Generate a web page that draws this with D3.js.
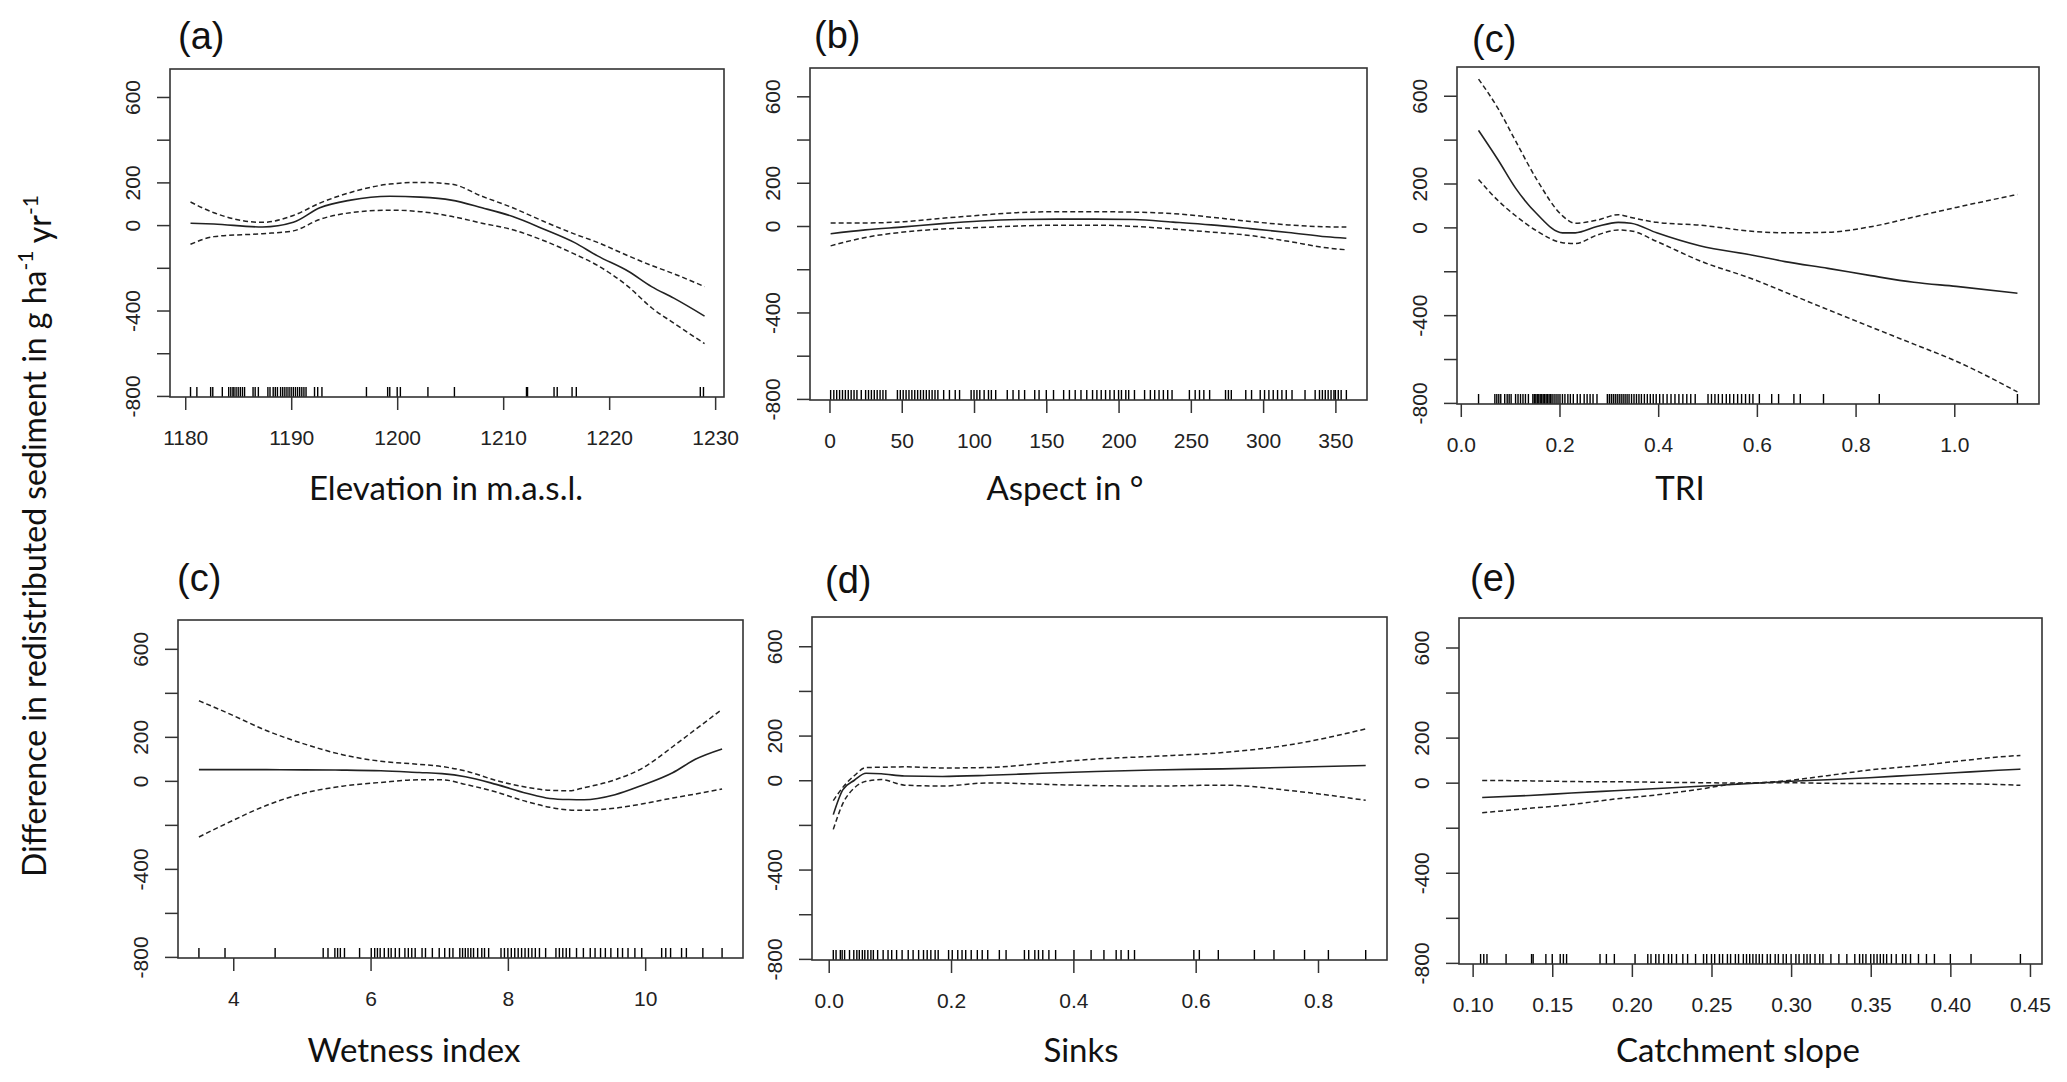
<!DOCTYPE html>
<html>
<head>
<meta charset="utf-8">
<script src="https://cdn.jsdelivr.net/npm/d3@7"></script>
<style>
  body { margin: 0; background: #fff; }
  .tick text { font-family: 'Liberation Sans', Arial, sans-serif; font-size: 21px; fill: #222; }
  .tick line { stroke: #333; stroke-width: 1.5; }
  .lbl { font-family: Lato, 'Open Sans', sans-serif; fill: #111; }
  .tag { font-family: 'Liberation Sans', Arial, sans-serif; fill: #111; }
</style>
</head>
<body>
<div id="chart"></div>
<script>
// shared y axis
const yTicks = [-800, -600, -400, -200, 0, 200, 400, 600]
const yTicksLabelled = [600, 200, 0, -400, -800]
const yLimits = [-805, 731]

// (a) elevation
const elevX = [1180.5, 1182.7, 1187.3, 1190.2, 1192.7, 1195.6, 1199.3, 1202.2, 1205.1, 1208, 1210.9, 1213.8, 1216.7, 1218.9, 1221.8, 1224, 1226.1, 1229]
const elevFit = [9, 5, -9, 13, 81, 117, 135, 131, 117, 81, 40, -18, -81, -144, -216, -288, -342, -426]
const elevUpper = [108, 58, 13, 45, 103, 153, 192, 200, 192, 135, 81, 18, -41, -81, -144, -189, -228, -288]
const elevLower = [-90, -54, -40, -27, 27, 58, 70, 63, 41, 9, -22, -72, -135, -189, -288, -387, -459, -555]
const elevRug = [1180.5, 1181.1, 1182.4, 1182.6, 1183.5, 1184.1, 1184.3, 1184.5, 1184.6, 1184.8, 1185, 1185.2, 1185.4, 1185.6,
  1186.4, 1186.6, 1186.9, 1187.8, 1188, 1188.3, 1188.5, 1188.7, 1189, 1189.2, 1189.4, 1189.6, 1189.8, 1190, 1190.2,
  1190.4, 1190.6, 1190.8, 1191, 1191.2, 1191.4, 1192.2, 1192.5, 1192.9, 1197.1, 1199.1, 1199.3, 1200, 1200.3, 1202.9,
  1205.4, 1212.2, 1212.3, 1214.8, 1215.1, 1216.5, 1216.9, 1228.6, 1228.9]
const elevTicks = [1180, 1190, 1200, 1210, 1220, 1230]

// (b) aspect
const aspX = [0.8, 24.8, 51.4, 78, 104.6, 131, 158, 184.5, 211, 237.7, 264, 291, 317.5, 344, 357.6]
const aspFit = [-36, -18, -4, 11, 23, 30, 32, 32, 30, 18, 5, -12, -30, -50, -57]
const aspUpper = [14, 14, 20, 36, 50, 62, 66, 66, 64, 57, 41, 21, 5, -4, -5]
const aspLower = [-92, -53, -28, -14, -7, 0, 4, 4, -2, -14, -28, -44, -71, -101, -110]
const aspRug = [0.8, 3, 5, 7, 9, 11, 13, 15, 17, 19, 22, 25, 27, 29, 31, 33, 35, 37, 39, 47, 49, 51, 53, 55, 57, 59, 61,
  63, 65, 67, 69, 71, 73, 75, 79, 83, 87, 90, 98, 100, 102, 104, 107, 110, 112, 115, 123, 127, 131, 135, 142, 145, 150,
  155, 162, 166, 170, 174, 178, 182, 185, 188, 191, 194, 197, 200, 202, 205, 207, 211, 218, 222, 225, 228, 231, 234,
  237, 249, 253, 256, 259, 263, 274, 276, 278, 288, 292, 298, 301, 304, 307, 310, 313, 316, 320, 329, 336, 339, 341,
  343, 345, 347, 349, 350, 352, 354, 357.6]
const aspTicks = [0, 50, 100, 150, 200, 250, 300, 350]

// (c) TRI
const triX = [0.036, 0.076, 0.111, 0.154, 0.206, 0.232, 0.276, 0.319, 0.345, 0.397, 0.484, 0.597, 0.657, 0.744, 0.831, 0.918, 1.004, 1.128]
const triFit = [442, 306, 179, 62, -25, -25, 4, 23, 19, -25, -84, -129, -156, -187, -220, -250, -269, -300]
const triUpper = [676, 540, 394, 218, 53, 19, 33, 58, 45, 23, 10, -19, -25, -22, 3, 47, 91, 150]
const triLower = [218, 121, 53, -16, -70, -74, -35, -12, -16, -64, -152, -240, -295, -375, -454, -532, -610, -750]
const triRug = [0.036, 0.069, 0.073, 0.077, 0.081, 0.089, 0.094, 0.098, 0.102, 0.111, 0.116, 0.121, 0.126, 0.131, 0.137,
  0.146, 0.149, 0.152, 0.155, 0.158, 0.161, 0.164, 0.167, 0.170, 0.173, 0.176, 0.179, 0.182, 0.185, 0.189, 0.193, 0.197,
  0.201, 0.206, 0.211, 0.217, 0.222, 0.228, 0.236, 0.242, 0.25, 0.256, 0.262, 0.268, 0.276, 0.297, 0.301, 0.305, 0.309,
  0.313, 0.317, 0.321, 0.325, 0.329, 0.333, 0.337, 0.341, 0.346, 0.351, 0.356, 0.361, 0.366, 0.372, 0.378, 0.384, 0.39,
  0.396, 0.403, 0.41, 0.418, 0.426, 0.434, 0.442, 0.45, 0.458, 0.466, 0.475, 0.501, 0.508, 0.515, 0.522, 0.53, 0.538,
  0.545, 0.553, 0.561, 0.569, 0.577, 0.585, 0.592, 0.605, 0.63, 0.644, 0.675, 0.688, 0.735, 0.848, 1.128]
const triTicks = [0, 0.2, 0.4, 0.6, 0.8, 1.0]

// (c) wetness index
const wetX = [3.5, 3.92, 4.48, 5.03, 5.59, 6.15, 6.71, 7.04, 7.38, 7.83, 8.27, 8.61, 8.89, 9.11, 9.56, 9.95, 10.4, 10.73, 11.12]
const wetFit = [51, 51, 51, 50, 49, 46, 38, 33, 19, -16, -56, -80, -85, -86, -63, -21, 37, 98, 145]
const wetUpper = [364, 308, 229, 168, 119, 89, 75, 65, 45, 2, -29, -43, -45, -31, 5, 56, 155, 233, 325]
const wetLower = [-255, -191, -112, -56, -24, -7, 5, 5, -16, -51, -94, -120, -132, -134, -124, -105, -78, -60, -37]
const wetRug = [3.5, 3.88, 4.61, 5.31, 5.38, 5.48, 5.52, 5.56, 5.62, 5.84, 6.01, 6.06, 6.1, 6.14, 6.2, 6.26, 6.3, 6.36,
  6.42, 6.5, 6.55, 6.6, 6.65, 6.75, 6.8, 6.9, 7.0, 7.08, 7.15, 7.2, 7.3, 7.34, 7.38, 7.42, 7.46, 7.5, 7.56, 7.62, 7.66,
  7.72, 7.9, 7.95, 8.0, 8.05, 8.1, 8.15, 8.2, 8.25, 8.3, 8.35, 8.4, 8.46, 8.55, 8.7, 8.75, 8.8, 8.85, 8.9, 9.0, 9.1,
  9.2, 9.27, 9.35, 9.42, 9.5, 9.6, 9.67, 9.75, 9.85, 9.95, 10.24, 10.3, 10.37, 10.53, 10.6, 10.84, 11.12]
const wetTicks = [4, 6, 8, 10]

// (d) sinks
const sinkX = [0.0075, 0.023, 0.042, 0.061, 0.086, 0.124, 0.186, 0.261, 0.349, 0.437, 0.531, 0.644, 0.757, 0.878]
const sinkFit = [-154, -43, 0, 31, 29, 19, 17, 22, 31, 39, 46, 51, 58, 66]
const sinkUpper = [-91, -32, 21, 57, 58, 60, 55, 57, 76, 95, 107, 124, 160, 230]
const sinkLower = [-220, -105, -34, -5, 3, -22, -26, -12, -18, -24, -26, -22, -47, -90]
const sinkRug = [0.0075, 0.012, 0.019, 0.022, 0.026, 0.034, 0.041, 0.046, 0.05, 0.055, 0.059, 0.064, 0.069, 0.073, 0.08,
  0.089, 0.097, 0.103, 0.111, 0.12, 0.13, 0.138, 0.147, 0.155, 0.161, 0.167, 0.174, 0.179, 0.196, 0.202, 0.211, 0.218,
  0.224, 0.233, 0.243, 0.251, 0.26, 0.279, 0.29, 0.32, 0.327, 0.337, 0.343, 0.35, 0.36, 0.371, 0.401, 0.429, 0.45, 0.47,
  0.478, 0.49, 0.5, 0.597, 0.606, 0.637, 0.696, 0.728, 0.778, 0.817, 0.878]
const sinkTicks = [0, 0.2, 0.4, 0.6, 0.8]

// (e) catchment slope
const slopeX = [0.106, 0.1356, 0.162, 0.189, 0.216, 0.2425, 0.269, 0.296, 0.3227, 0.349, 0.376, 0.403, 0.43, 0.444]
const slopeFit = [-66, -57, -46, -36, -26, -16, -6, 5, 13, 22, 33, 44, 55, 60]
const slopeUpper = [10, 8, 5, 4, 2, 0, -2, 8, 31, 56, 73, 94, 114, 121]
const slopeLower = [-134, -114, -97, -73, -54, -29, -3, 0, -3, -4, -5, -5, -8, -12]
const slopeRug = [0.105, 0.107, 0.109, 0.121, 0.137, 0.138, 0.146, 0.15, 0.155, 0.157, 0.159, 0.18, 0.184, 0.189, 0.202,
  0.21, 0.212, 0.215, 0.217, 0.22, 0.223, 0.225, 0.228, 0.232, 0.235, 0.24, 0.245, 0.247, 0.25, 0.252, 0.255, 0.257,
  0.26, 0.262, 0.265, 0.267, 0.27, 0.272, 0.274, 0.276, 0.278, 0.28, 0.282, 0.285, 0.287, 0.29, 0.292, 0.295, 0.297,
  0.3, 0.303, 0.305, 0.308, 0.31, 0.312, 0.315, 0.318, 0.32, 0.325, 0.33, 0.335, 0.34, 0.343, 0.345, 0.347, 0.35,
  0.352, 0.354, 0.356, 0.358, 0.36, 0.363, 0.366, 0.37, 0.372, 0.375, 0.38, 0.385, 0.39, 0.40, 0.413, 0.444]
const slopeTicks = [0.10, 0.15, 0.20, 0.25, 0.30, 0.35, 0.40, 0.45]

const panels = [
  { tag: '(a)', title: 'Elevation in m.a.s.l.', x: elevX, fit: elevFit, up: elevUpper, lo: elevLower, rug: elevRug,
    ticks: elevTicks, fmt: d3.format('d'), box: [170, 69, 724, 397], tagPos: [178, 36], titlePos: [446, 487] },
  { tag: '(b)', title: 'Aspect in °', x: aspX, fit: aspFit, up: aspUpper, lo: aspLower, rug: aspRug,
    ticks: aspTicks, fmt: d3.format('d'), box: [810, 68, 1367, 400], tagPos: [814, 35], titlePos: [1065, 487] },
  { tag: '(c)', title: 'TRI', x: triX, fit: triFit, up: triUpper, lo: triLower, rug: triRug,
    ticks: triTicks, fmt: d3.format('.1f'), box: [1457, 67, 2039, 404], tagPos: [1472, 39], titlePos: [1680, 487] },
  { tag: '(c)', title: 'Wetness index', x: wetX, fit: wetFit, up: wetUpper, lo: wetLower, rug: wetRug,
    ticks: wetTicks, fmt: d3.format('d'), box: [178, 620, 743, 958], tagPos: [177, 578], titlePos: [414, 1049] },
  { tag: '(d)', title: 'Sinks', x: sinkX, fit: sinkFit, up: sinkUpper, lo: sinkLower, rug: sinkRug,
    ticks: sinkTicks, fmt: d3.format('.1f'), box: [812, 617, 1387, 960], tagPos: [825, 580], titlePos: [1081, 1049] },
  { tag: '(e)', title: 'Catchment slope', x: slopeX, fit: slopeFit, up: slopeUpper, lo: slopeLower, rug: slopeRug,
    ticks: slopeTicks, fmt: d3.format('.2f'), box: [1459, 618, 2042, 964], tagPos: [1470, 578], titlePos: [1738, 1049] }
]

const svg = d3
  .select('#chart')
  .append('svg')
  .attr('width', 2067)
  .attr('height', 1082)
  .style('background', '#fff')

panels.forEach(function(p) {
  const [x0, y0, x1, y1] = p.box

  // R style range: data extent padded by 4% on each side
  const ext = d3.extent(p.rug)
  const pad = (ext[1] - ext[0]) * 0.04
  const xScale = d3.scaleLinear().domain([ext[0] - pad, ext[1] + pad]).range([x0, x1])
  const yScale = d3.scaleLinear().domain(yLimits).range([y1, y0])

  const g = svg.append('g')

  // x axis
  const xAxis = d3.axisBottom(xScale).tickValues(p.ticks).tickFormat(p.fmt).tickSize(13)
  g.append('g')
    .attr('transform', 'translate(0,' + y1 + ')')
    .call(xAxis)
    .call(a => a.select('.domain').remove())
    .selectAll('text')
    .attr('y', 40)
    .attr('dy', '0.36em')

  // y axis, labels rotated like base R
  const yAxis = d3.axisLeft(yScale)
    .tickValues(yTicks)
    .tickSize(13)
    .tickFormat(d => yTicksLabelled.includes(d) ? d : '')
  g.append('g')
    .attr('transform', 'translate(' + x0 + ',0)')
    .call(yAxis)
    .call(a => a.select('.domain').remove())
    .selectAll('text')
    .attr('x', 0)
    .attr('dy', 0)
    .attr('text-anchor', 'middle')
    .attr('dominant-baseline', 'central')
    .attr('transform', 'translate(-38,0) rotate(-90)')

  // rug
  g.append('g')
    .selectAll('line')
    .data(p.rug)
    .enter()
    .append('line')
    .attr('x1', d => xScale(d))
    .attr('x2', d => xScale(d))
    .attr('y1', y1)
    .attr('y2', y1 - 10)
    .attr('stroke', '#000')
    .attr('stroke-width', 1.4)

  const pts = p.x.map((d, i) => i)
  const line = arr => d3.line()
    .x(i => xScale(p.x[i]))
    .y(i => yScale(arr[i]))
    .curve(d3.curveMonotoneX)(pts)

  g.append('path').attr('d', line(p.fit))
    .attr('fill', 'none').attr('stroke', '#222').attr('stroke-width', 1.6)
  g.append('path').attr('d', line(p.up))
    .attr('fill', 'none').attr('stroke', '#222').attr('stroke-width', 1.5).attr('stroke-dasharray', '5,3')
  g.append('path').attr('d', line(p.lo))
    .attr('fill', 'none').attr('stroke', '#222').attr('stroke-width', 1.5).attr('stroke-dasharray', '5,3')

  // frame
  g.append('rect')
    .attr('x', x0)
    .attr('y', y0)
    .attr('width', x1 - x0)
    .attr('height', y1 - y0)
    .attr('fill', 'none')
    .attr('stroke', '#333')
    .attr('stroke-width', 1.6)

  g.append('text')
    .attr('class', 'tag')
    .attr('x', p.tagPos[0])
    .attr('y', p.tagPos[1])
    .attr('dominant-baseline', 'central')
    .style('font-size', '38px')
    .text(p.tag)

  g.append('text')
    .attr('class', 'lbl')
    .attr('x', p.titlePos[0])
    .attr('y', p.titlePos[1])
    .attr('text-anchor', 'middle')
    .attr('dominant-baseline', 'central')
    .style('font-size', '33px')
    .text(p.title)
})

// shared y label
const yLab = svg.append('text')
  .attr('class', 'lbl')
  .attr('transform', 'translate(33,536) rotate(-90)')
  .attr('text-anchor', 'middle')
  .attr('dominant-baseline', 'central')
  .style('font-size', '32px')
yLab.append('tspan').text('Difference in redistributed sediment in g ha')
yLab.append('tspan').attr('dy', '-0.45em').style('font-size', '21px').text('-1')
yLab.append('tspan').attr('dy', '0.45em').text(' yr')
yLab.append('tspan').attr('dy', '-0.45em').style('font-size', '21px').text('-1')
</script>
</body>
</html>
